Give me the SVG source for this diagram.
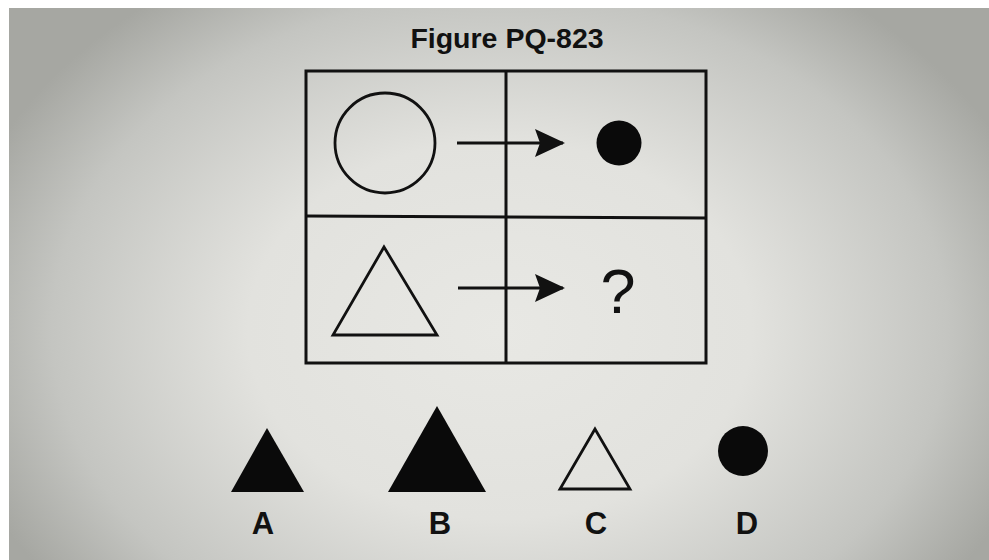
<svg xmlns="http://www.w3.org/2000/svg" width="989" height="560" viewBox="0 0 989 560">
<defs>
<radialGradient id="bg" cx="500" cy="330" r="560" gradientUnits="userSpaceOnUse" gradientTransform="translate(500 330) scale(1 0.75) translate(-500 -330)">
<stop offset="0" stop-color="#e8e8e4"/>
<stop offset="0.45" stop-color="#e2e2de"/>
<stop offset="0.8" stop-color="#c4c5c1"/>
<stop offset="1" stop-color="#a6a7a2"/>
</radialGradient>
<marker id="ah" viewBox="0 0 30 28" refX="28" refY="14" markerWidth="30" markerHeight="28" markerUnits="userSpaceOnUse" orient="auto">
<path d="M0,0 L30,14 L0,28 L5,14 Z" fill="#111"/>
</marker>
<style>
.grid{fill:none;stroke:#111;stroke-width:3}
.outline{fill:none;stroke:#111;stroke-width:2.8;stroke-linejoin:miter}
.solid{fill:#0a0a0a}
.conn{stroke:#111;stroke-width:2.8;fill:none}
.lbl{font-family:"Liberation Sans",Arial,sans-serif;font-weight:bold;fill:#111;text-anchor:middle}
</style>
</defs>
<rect width="989" height="560" fill="#ffffff"/>
<rect x="9" y="8" width="980" height="552" fill="url(#bg)"/>
<text class="lbl" x="507" y="48" font-size="28.5">Figure PQ-823</text>
<g id="grid">
<rect class="grid" x="306" y="71" width="400" height="292" fill="#e3e3df"/>
<line class="grid" x1="506" y1="71" x2="506" y2="363"/>
<line class="grid" x1="306" y1="216" x2="706" y2="218"/>
</g>
<g id="circle-open"><circle class="outline" cx="385" cy="143" r="50"/></g>
<g id="circle-filled"><circle class="solid" cx="619" cy="143" r="22.5"/></g>
<g id="triangle-open"><polygon class="outline" points="384,247 333,335 437,335"/></g>
<g id="question"><text x="618" y="313" font-family="Liberation Sans,Arial,sans-serif" font-size="63" fill="#111" text-anchor="middle">?</text></g>
<g id="connectors">
<line class="conn" x1="457" y1="143" x2="563" y2="143" marker-end="url(#ah)"/>
<line class="conn" x1="458" y1="288" x2="563" y2="288" marker-end="url(#ah)"/>
</g>
<g id="option-A">
<polygon class="solid" points="267,428 231,492 304,492"/>
<text class="lbl" x="263" y="534" font-size="31">A</text>
</g>
<g id="option-B">
<polygon class="solid" points="437,406 388,492 486,492"/>
<text class="lbl" x="440" y="534" font-size="31">B</text>
</g>
<g id="option-C">
<polygon class="outline" points="595,429 560,489 630,489"/>
<text class="lbl" x="596" y="534" font-size="31">C</text>
</g>
<g id="option-D">
<circle class="solid" cx="743" cy="451" r="25"/>
<text class="lbl" x="747" y="534" font-size="31">D</text>
</g>
</svg>
